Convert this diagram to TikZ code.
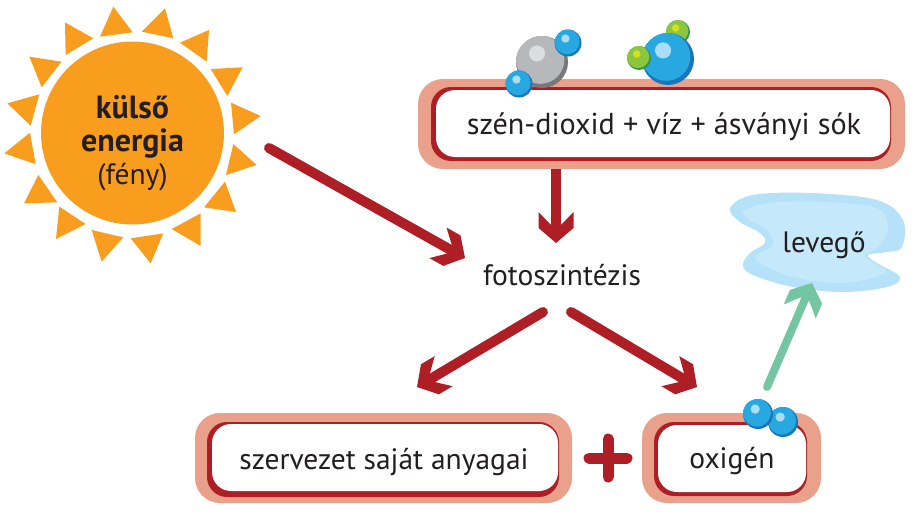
\documentclass[tikz,border=0pt]{standalone}
\usepackage{fontspec}
\setmainfont{PT Sans}
\usepackage{xcolor}
\usetikzlibrary{positioning,calc,arrows.meta}
\definecolor{sunorange}{HTML}{F99D1E}
\definecolor{darkred}{HTML}{AE1F25}
\definecolor{salmon}{HTML}{EAA18B}
\definecolor{airout}{HTML}{B5E1F9}
\definecolor{airin}{HTML}{C6E8FB}
\definecolor{mint}{HTML}{74C6A3}
\definecolor{ballblue}{HTML}{27A8E0}
\definecolor{ballshade}{HTML}{1B75BB}
\definecolor{ballglint}{HTML}{A9DDF5}
\definecolor{ballgrey}{HTML}{B7B8BA}
\definecolor{greyshade}{HTML}{77787B}
\definecolor{greyglint}{HTML}{DCDDDE}
\definecolor{ballgreen}{HTML}{8CC63F}
\definecolor{greenshade}{HTML}{39924A}
\definecolor{greenglint}{HTML}{D7DF23}
\definecolor{inktext}{HTML}{231F20}
% swept head with square-cut barbs
\pgfdeclarearrow{
    name=Swept,
    setup code={
        \pgfarrowssettipend{0pt}
        \pgfarrowssetlineend{-17pt}
        \pgfarrowssetbackend{-31pt}
        \pgfarrowssetvisualbackend{-17pt}
    },
    drawing code={
        \pgfpathmoveto{\pgfpoint{0pt}{0pt}}
        \pgfpathlineto{\pgfpoint{-15pt}{17.5pt}}
        \pgfpathlineto{\pgfpoint{-31pt}{17.5pt}}
        \pgfpathlineto{\pgfpoint{-18pt}{5pt}}
        \pgfpathlineto{\pgfpoint{-18pt}{-5pt}}
        \pgfpathlineto{\pgfpoint{-31pt}{-17.5pt}}
        \pgfpathlineto{\pgfpoint{-15pt}{-17.5pt}}
        \pgfpathclose
        \pgfusepathqfill
    }
}
\tikzset{
    label text/.style={font=\fontsize{29.5}{33}\selectfont, text=inktext},
    red arrow/.style={darkred, line width=10pt, line cap=round, -Swept},
    green arrow/.style={mint, line width=8pt, line cap=round, -Swept},
}
% one ball: x, y, radius, main colour, shade colour, glint colour
\newcommand{\ball}[6]{
    \fill[#5] (#1,#2) circle (#3);
    \begin{scope}
        \clip (#1,#2) circle (#3);
        \fill[#4] (#1-0.07*#3,#2-0.09*#3) circle (0.93*#3);
    \end{scope}
    \fill[#6] (#1-0.19*#3,#2-0.33*#3) circle (0.31*#3);
}
% pale frame: outer corners, then red corners, then white corners
\newcommand{\framedbox}[3]{
    \fill[salmon, rounded corners=25pt] #1;
    \fill[darkred, rounded corners=20pt] #2;
    \fill[white, rounded corners=19pt] #3;
}
\begin{document}
\begin{tikzpicture}[x=1pt, y=-1pt]
    \useasboundingbox (0,0) rectangle (916,514);

    % Sun
    \foreach \ax/\ay/\bx/\by/\cx/\cy in {
        340/20/300/110/398/97, 495/25/425/95/520/115, 627/90/540/128/620/185,
        728/202/632/207/682/288, 782/348/693/308/702/403, 770/495/700/432/678/525,
        708/636/675/545/612/622, 602/640/515/687/602/738, 452/790/392/715/490/700,
        305/785/275/690/370/712, 168/717/178/620/257/672, 72/610/115/525/172/607,
        13/460/90/398/107/493, 22/310/118/283/92/377, 88/170/185/185/125/262,
        195/67/280/115/197/165}
        \fill[sunorange] (\ax/3,\ay/3) -- (\bx/3,\by/3) -- (\cx/3,\cy/3) -- cycle;
    \node[circle, fill=sunorange, minimum size=183pt, inner sep=0pt] (sun) at (132.5,133) {};
    \node[align=center, label text, font=\fontsize{29.5}{33}\selectfont] (sunlabel) at (132.5,143)
        {{\fontsize{32}{33}\selectfont\textbf{külső}}\\{\fontsize{32}{33}\selectfont\textbf{energia}}\\(fény)};

    % Air
    \fill[airout] plot[smooth cycle, tension=0.6] coordinates {
        (730,208) (753,195) (810,193) (877,200) (903,220) (902,247) (887,252) (868,255)
        (877,263) (900,277) (887,287) (843,292) (793,287) (753,275) (743,265) (750,253)
        (765,243) (760,233) (740,222)};
    \fill[airin] plot[smooth cycle, tension=0.6] coordinates {
        (745,210) (777,202) (843,203) (880,210) (888,230) (877,248) (865,255)
        (873,263) (885,273) (843,283) (793,277) (760,263) (757,255) (773,245)
        (767,230) (747,218)};
    \node[label text] (air) at (824,245) {levegő};

    % Upper box
    \framedbox{(418,79) rectangle (905,169)}{(431,87) rectangle (891,161)}{(436,90) rectangle (890,157)}
    \node[label text, font=\fontsize{30.2}{33}\selectfont] (inputs) at (664,127) {szén-dioxid + víz + ásványi sók};

    % Lower left box
    \framedbox{(195,413) rectangle (572,503)}{(207,422) rectangle (559,497)}{(212,424) rectangle (558,491)}
    \node[label text] (own) at (384,462) {szervezet saját anyagai};

    % Lower right box
    \framedbox{(642,413) rectangle (821,503)}{(654,422) rectangle (807,496)}{(658,425) rectangle (806,492)}
    \node[label text] (oxygen) at (732,461) {oxigén};

    % Plus sign
    \coordinate (plus) at (608,458);
    \draw[darkred, line width=11pt, line cap=round] ($(plus)+(-19,0)$) -- ($(plus)+(19,0)$);
    \draw[darkred, line width=11pt, line cap=round] ($(plus)+(0,-19)$) -- ($(plus)+(0,19)$);

    % Process
    \node[label text] (photo) at (562,275) {fotoszintézis};

    % Connectors
    \coordinate (sunend) at (269,148);
    \coordinate (photoin) at (465,258);
    \coordinate (inputsend) at (556,169);
    \coordinate (phototop) at (556,243);
    \coordinate (leftstart) at (543,312);
    \coordinate (leftend) at (417,387);
    \coordinate (rightstart) at (571,312);
    \coordinate (rightend) at (697,387);
    \coordinate (oxystart) at (767,387);
    \coordinate (airend) at (812,283);
    \draw[red arrow] (sunend) -- (photoin);
    \draw[red arrow, line cap=butt] (inputsend) -- (phototop);
    \draw[red arrow] (leftstart) -- (leftend);
    \draw[red arrow] (rightstart) -- (rightend);
    \draw[green arrow] (oxystart) -- (airend);

    % Molecules
    \ball{542}{62}{26}{ballgrey}{greyshade}{greyglint}
    \ball{568}{43}{13.5}{ballblue}{ballshade}{ballglint}
    \ball{519}{84}{13.5}{ballblue}{ballshade}{ballglint}
    \ball{678}{32}{12}{ballgreen}{greenshade}{greenglint}
    \ball{668}{59}{26}{ballblue}{ballshade}{ballglint}
    \ball{639}{58}{12}{ballgreen}{greenshade}{greenglint}
    \ball{783}{422}{15}{ballblue}{ballshade}{ballglint}
    \ball{758}{414}{15}{ballblue}{ballshade}{ballglint}
\end{tikzpicture}
\end{document}
